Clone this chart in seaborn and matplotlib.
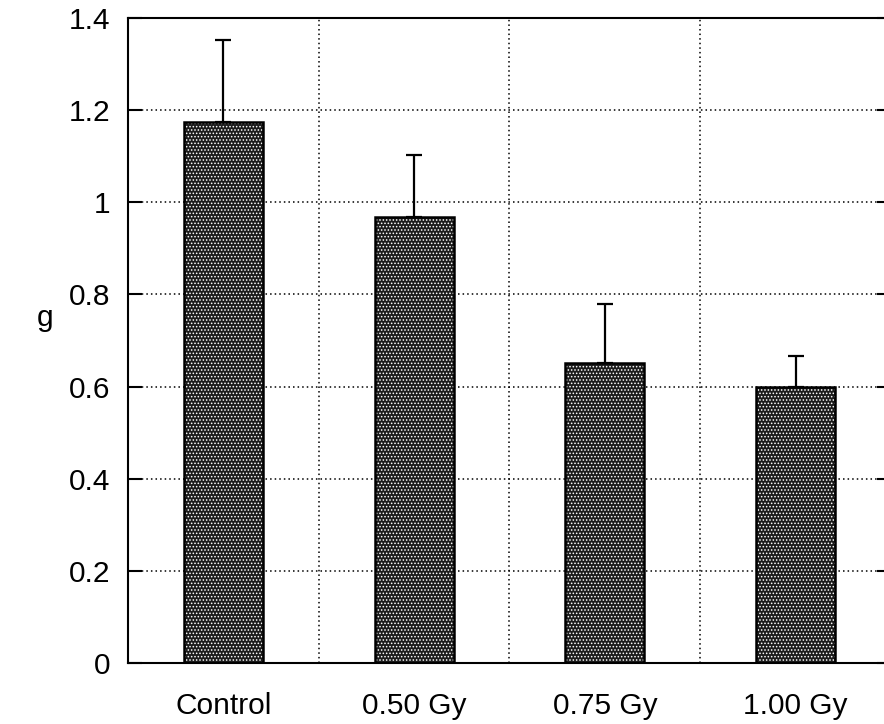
import matplotlib
matplotlib.use("Agg")
import matplotlib.pyplot as plt
import seaborn as sns
import pandas as pd
import numpy as np

categories = ["Control", "0.50 Gy", "0.75 Gy", "1.00 Gy"]
means = [1.174, 0.969, 0.652, 0.600]
upper_err = [0.178, 0.134, 0.128, 0.067]
yticks = [0, 0.2, 0.4, 0.6, 0.8, 1.0, 1.2, 1.4]
ytick_labels = ["0", "0.2", "0.4", "0.6", "0.8", "1", "1.2", "1.4"]
ylabel = "g"

sns.set_style("white")
plt.rcParams["font.family"] = ["Liberation Sans", "DejaVu Sans"]
plt.rcParams["hatch.linewidth"] = 0.7

df = pd.DataFrame({"group": categories, "value": means})

fig = plt.figure(figsize=(8.84, 7.24), dpi=100)
ax = fig.add_axes([0.1448, 0.0843, 0.8631, 0.8909])

# stippled fill
sns.barplot(data=df, x="group", y="value", order=categories, ax=ax,
            color="#1c1c1c", errorbar=None, width=0.415, saturation=1,
            linewidth=0, edgecolor="white", hatch=".....")
# black outline
sns.barplot(data=df, x="group", y="value", order=categories, ax=ax,
            errorbar=None, width=0.415, fill=False, edgecolor="black",
            linewidth=1.8)

ax.errorbar(x=np.arange(len(categories)), y=means,
            yerr=[np.zeros(len(means)), upper_err], fmt="none",
            ecolor="black", elinewidth=1.6, capsize=6, capthick=1.6)

ax.set_xlim(-0.5, 3.5)
ax.set_ylim(0, 1.4)
ax.set_yticks(yticks)
ax.set_yticklabels(ytick_labels)
ax.set_xticks(np.arange(len(categories)))
ax.set_xticklabels(categories)
ax.set_xticks([0.5, 1.5, 2.5], minor=True)

ax.grid(True, axis="y", which="major", color="black", linestyle=(0, (1, 2)), linewidth=1.1)
ax.grid(True, axis="x", which="minor", color="black", linestyle=(0, (1, 2)), linewidth=1.1)
ax.set_axisbelow(True)

ax.tick_params(axis="y", which="major", direction="in", length=10, width=1.5,
               left=True, right=True, labelsize=21.5, pad=13, labelcolor="black",
               color="black")
ax.tick_params(axis="x", which="both", length=0, labelsize=21.5, pad=21,
               labelcolor="black")

for s in ax.spines.values():
    s.set_linewidth(1.5)
    s.set_color("black")

ax.set_xlabel("")
ax.set_ylabel(ylabel, rotation=0, fontsize=21.5, ha="center", va="center", color="black")
ax.yaxis.set_label_coords(-0.109, 0.535)

fig.savefig("out.png", dpi=100)
